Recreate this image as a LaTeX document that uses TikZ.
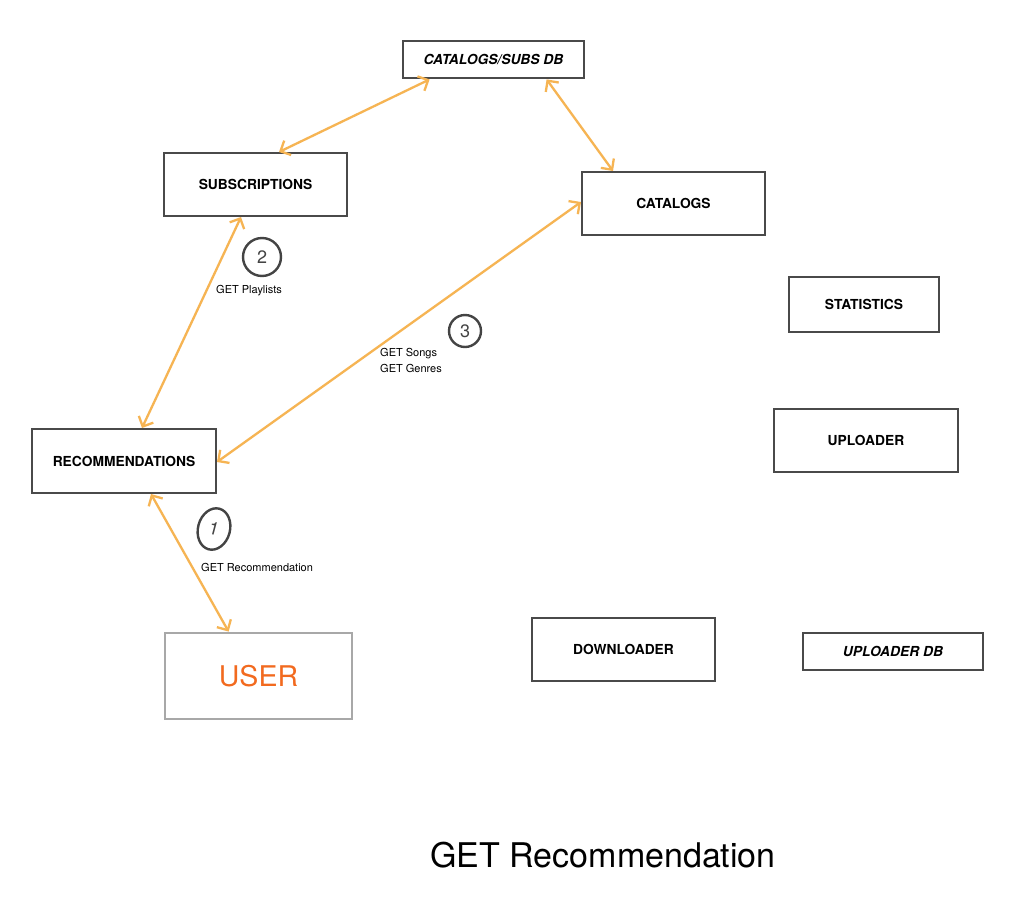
\documentclass[tikz,border=0pt]{standalone}
\usepackage{fontspec}
\setmainfont{TeX Gyre Heros}
\usetikzlibrary{arrows.meta,calc,shapes.geometric}
\definecolor{boxgray}{HTML}{4A4A4A}
\definecolor{usergray}{HTML}{A8A8A8}
\definecolor{arrorange}{HTML}{F6B453}
\definecolor{usertext}{HTML}{F26A1F}
\definecolor{numgray}{HTML}{444444}
\tikzset{
  svc/.style={draw=boxgray,line width=2pt,inner sep=0pt,font=\fontsize{13.8}{15}\selectfont\bfseries},
  dbbox/.style={draw=boxgray,line width=2.8pt,inner sep=0pt,font=\fontsize{13.8}{15}\selectfont\bfseries\itshape},
  userbox/.style={draw=usergray,line width=2.8pt,inner sep=0pt,text=usertext,font=\fontsize{28.5}{30}\selectfont},
  link/.style={draw=arrorange,line width=2.3pt,{Straight Barb[length=8pt,width=16pt]}-{Straight Barb[length=8pt,width=16pt]}},
  lbl/.style={inner sep=0pt,font=\fontsize{11}{16}\selectfont,align=left},
  num/.style={draw=numgray,line width=2.4pt,circle,inner sep=0pt,text=numgray,font=\fontsize{18}{18}\selectfont}
}
\begin{document}
\begin{tikzpicture}[x=1pt,y=-1pt]
\useasboundingbox (0,0) rectangle (1024,918);
\fill[white] (0,0) rectangle (1024,918);

\node[dbbox,minimum width=181,minimum height=37] (db) at (493.5,59.5) {CATALOGS/SUBS DB};
\node[svc,minimum width=183,minimum height=63] (subs) at (255.5,184.5) {SUBSCRIPTIONS};
\node[svc,minimum width=183,minimum height=63] (cat) at (673.5,203.5) {CATALOGS};
\node[svc,minimum width=150,minimum height=55] (stat) at (864,304.5) {STATISTICS};
\node[svc,minimum width=184,minimum height=63] (upl) at (866,440.5) {UPLOADER};
\node[svc,minimum width=184,minimum height=64] (rec) at (124,461) {RECOMMENDATIONS};
\node[svc,minimum width=183,minimum height=63] (down) at (623.5,649.5) {DOWNLOADER};
\node[dbbox,minimum width=180,minimum height=37] (upldb) at (893,651.5) {UPLOADER DB};
\node[userbox,minimum width=187,minimum height=86] (user) at (258.5,676) {USER};

\draw[link] ([xshift=28pt]db.south west) -- ([xshift=116pt]subs.north west);
\draw[link] ([xshift=145pt]db.south west) -- ([xshift=32pt]cat.north west);
\draw[link] ([xshift=78pt]subs.south west) -- ([xshift=111pt]rec.north west);
\draw[link] ([yshift=-31pt]cat.north west) -- ([yshift=-34pt]rec.north east);
\draw[link] ([xshift=120pt]rec.south west) -- ([xshift=65pt]user.north west);

\node[num,minimum size=38] (n2) at (262,257) {2};
\node[num,minimum size=32] (n3) at (465,331) {3};
\node[num,ellipse,minimum width=32,minimum height=42,rotate=-15] (n1) at (214,529) {1};

\node[lbl,anchor=west] (l2) at (216,291) {GET Playlists};
\node[lbl,anchor=west] (l3) at (380,360) {GET Songs\\GET Genres};
\node[lbl,anchor=west] (l1) at (201,567) {GET Recommendation};

\node[inner sep=0pt,font=\fontsize{34}{36}\selectfont] (title) at (603,855) {GET Recommendation};
\end{tikzpicture}
\end{document}
